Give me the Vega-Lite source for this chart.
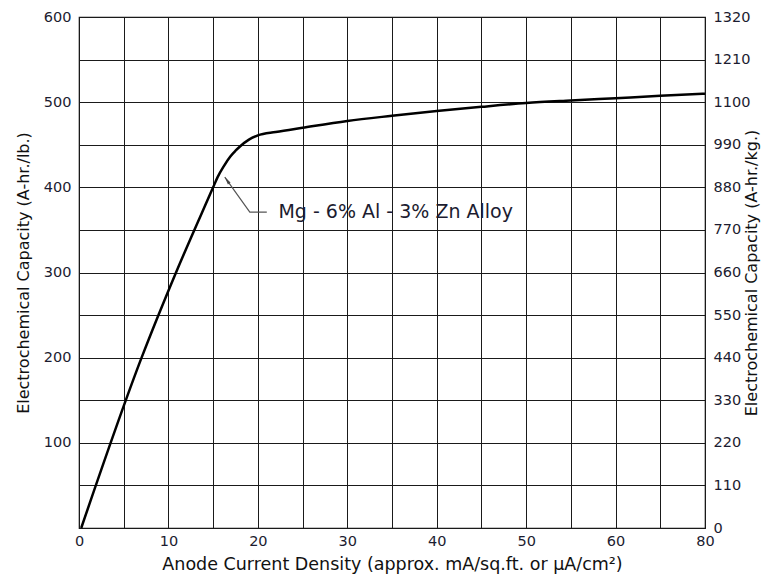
{
  "$schema": "https://vega.github.io/schema/vega-lite/v6.json",
  "autosize": "none",
  "width": 626,
  "height": 511,
  "padding": {"left": 79, "top": 17, "right": 72, "bottom": 55},
  "background": "white",
  "config": {
    "font": "DejaVu Sans",
    "view": {"stroke": "#111", "strokeWidth": 1.2},
    "axis": {"labelFont": "DejaVu Sans", "titleFont": "DejaVu Sans", "labelColor": "#1c1c30", "titleColor": "#111", "titleFontWeight": "normal", "labelFontSize": 14.5, "titleFontSize": 16, "ticks": false, "domain": false, "gridColor": "#1a1a1a", "gridOpacity": 1, "gridWidth": 1}
  },
  "datasets": {
    "curve": [
      {"density": 0.25, "capacity": 0},
      {"density": 7.0, "capacity": 200},
      {"density": 10.85, "capacity": 300},
      {"density": 15, "capacity": 400},
      {"density": 15.5, "capacity": 412},
      {"density": 16.2, "capacity": 425},
      {"density": 16.9, "capacity": 436},
      {"density": 17.5, "capacity": 443},
      {"density": 18, "capacity": 448},
      {"density": 19, "capacity": 456},
      {"density": 20, "capacity": 461},
      {"density": 22, "capacity": 465},
      {"density": 25, "capacity": 470},
      {"density": 30, "capacity": 478},
      {"density": 35, "capacity": 484},
      {"density": 40, "capacity": 489.5},
      {"density": 45, "capacity": 494.5},
      {"density": 50, "capacity": 499},
      {"density": 55, "capacity": 502},
      {"density": 60, "capacity": 504.7},
      {"density": 70, "capacity": 507.4},
      {"density": 80, "capacity": 510}
    ],
    "leader": [
      {"density": 16.3, "capacity": 412},
      {"density": 19.1, "capacity": 371},
      {"density": 21.0, "capacity": 371}
    ],
    "note": [
      {"density": 22.3, "capacity": 371, "label": "Mg - 6% Al - 3% Zn Alloy", "tipx": 16.3, "tipy": 412}
    ]
  },
  "encoding": {
    "x": {
      "field": "density", "type": "quantitative",
      "scale": {"domain": [0, 60, 80], "range": [0, 536.57, 626], "nice": false, "zero": false},
      "axis": {
        "title": "Anode Current Density (approx. mA/sq.ft. or μA/cm²)",
        "titleFontSize": 17.5,
        "values": [0, 5, 10, 15, 20, 25, 30, 35, 40, 45, 50, 55, 60, 70, 80],
        "labelExpr": "(datum.value % 10 == 0 && datum.value != 70) ? datum.label : ''",
        "labelPadding": 6, "titlePadding": 8, "labelFlush": false, "grid": true
      }
    }
  },
  "layer": [
    {
      "data": {"name": "curve"},
      "mark": {"type": "line", "color": "#000", "strokeWidth": 2.5, "interpolate": "monotone"},
      "encoding": {
        "y": {
          "field": "capacity", "type": "quantitative",
          "scale": {"domain": [0, 600], "nice": false},
          "axis": {
            "title": "Electrochemical Capacity (A-hr./lb.)",
            "values": [0, 50, 100, 150, 200, 250, 300, 350, 400, 450, 500, 550, 600],
            "labelExpr": "(datum.value % 100 == 0 && datum.value != 0) ? datum.label : ''",
            "labelPadding": 8, "titlePadding": 12, "grid": true
          }
        }
      }
    },
    {
      "data": {"name": "curve"},
      "mark": {"type": "line", "opacity": 0},
      "encoding": {
        "y": {
          "field": "capacity", "type": "quantitative",
          "scale": {"domain": [0, 600], "nice": false},
          "axis": {
            "orient": "right",
            "title": "Electrochemical Capacity (A-hr./kg.)",
            "titleAngle": -90,
            "values": [0, 50, 100, 150, 200, 250, 300, 350, 400, 450, 500, 550, 600],
            "labelExpr": "format(datum.value * 2.2, 'd')",
            "labelPadding": 8, "titlePadding": 10, "grid": false
          }
        }
      }
    },
    {
      "data": {"name": "leader"},
      "mark": {"type": "line", "color": "#555", "strokeWidth": 1.2},
      "encoding": {
        "y": {"field": "capacity", "type": "quantitative", "scale": {"domain": [0, 600], "nice": false}, "axis": null}
      }
    },
    {
      "data": {"name": "note"},
      "mark": {"type": "point", "shape": "M0,0L0.45,2.2L-0.45,2.2Z", "filled": true, "opacity": 1, "color": "#444", "size": 50, "angle": 325},
      "encoding": {
        "x": {"field": "tipx", "type": "quantitative"},
        "y": {"field": "tipy", "type": "quantitative", "scale": {"domain": [0, 600], "nice": false}, "axis": null}
      }
    },
    {
      "data": {"name": "note"},
      "mark": {"type": "text", "align": "left", "baseline": "middle", "font": "DejaVu Sans", "fontSize": 19, "color": "#1c1c30"},
      "encoding": {
        "y": {"field": "capacity", "type": "quantitative", "scale": {"domain": [0, 600], "nice": false}, "axis": null},
        "text": {"field": "label"}
      }
    }
  ],
  "resolve": {"scale": {"y": "independent"}}
}
